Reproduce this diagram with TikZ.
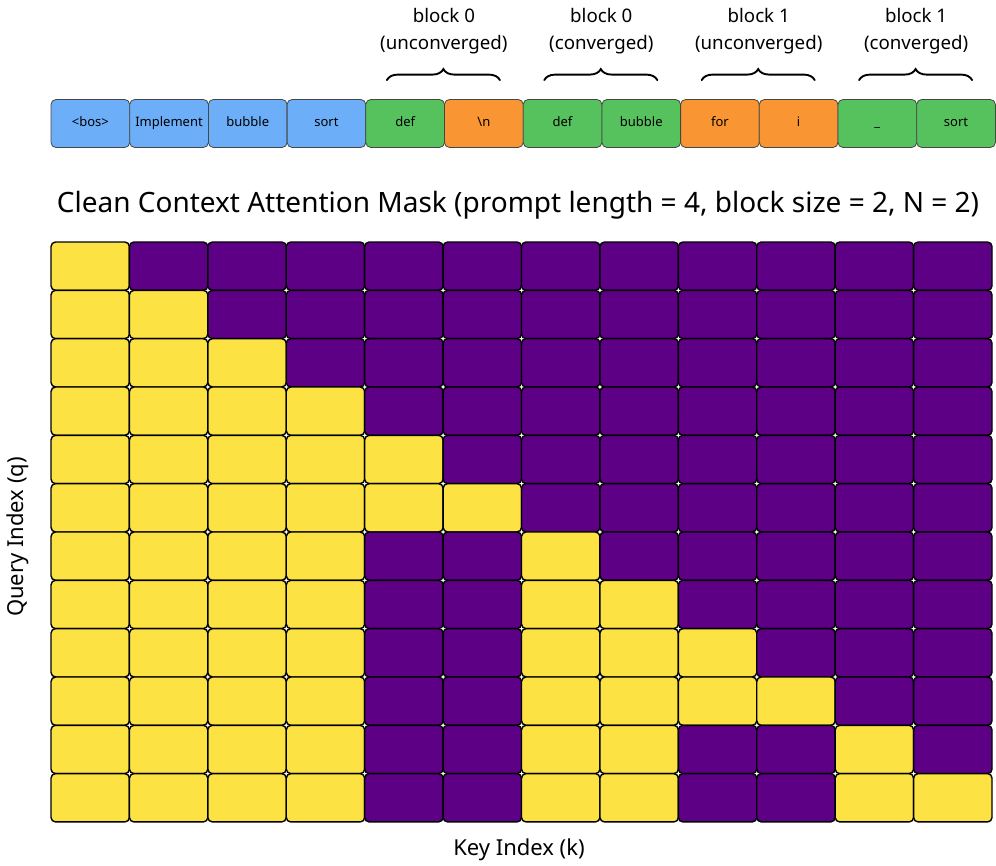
\documentclass[tikz,border=0pt]{standalone}
\usepackage{fontspec}
\setmainfont{Noto Sans}
\usetikzlibrary{decorations.pathreplacing,calc}
\definecolor{maskY}{RGB}{253,226,68}
\definecolor{maskP}{RGB}{93,0,133}
\definecolor{tokB}{RGB}{108,175,248}
\definecolor{tokG}{RGB}{86,194,94}
\definecolor{tokO}{RGB}{249,149,50}
\definecolor{tokEdge}{RGB}{70,70,70}
\tikzset{
  cell/.style={draw=black, line width=1.4pt, rounded corners=4.5pt, minimum width=78.4pt, minimum height=48.3pt, inner sep=0pt, outer sep=0pt},
  tok/.style={draw=tokEdge, line width=0.8pt, rounded corners=5pt, minimum width=78.7pt, minimum height=48pt, inner sep=0pt, text height=9.5pt, text depth=2.5pt, font=\fontsize{13}{15}\selectfont},
  blocklabel/.style={align=center, font=\fontsize{18.7}{27}\selectfont},
  bracestyle/.style={decorate, decoration={brace, amplitude=11pt}, line width=1.9pt, line cap=round},
  axislabel/.style={font=\fontsize{22}{26}\selectfont},
}
\begin{document}
\begin{tikzpicture}[x=1pt,y=-1pt]
\useasboundingbox (0,0) rectangle (996,866);
% tokens
\foreach \i/\t/\c in {0/{<bos>}/tokB,1/Implement/tokB,2/bubble/tokB,3/sort/tokB,4/def/tokG,5/{\textbackslash n}/tokO,6/def/tokG,7/bubble/tokG,8/for/tokO,9/i/tokO,10/\textunderscore/tokG,11/sort/tokG}{
  \node[tok, fill=\c] (t\i) at ({51+78.7*(\i+0.5)},123.5) {\t};
}
% braces and block labels
\foreach \a/\b/\n/\l in {4/5/0/unconverged,6/7/0/converged,8/9/1/unconverged,10/11/1/converged}{
  \coordinate (bl\a) at ($(t\a.north east)+(-58,-19)$);
  \coordinate (br\a) at ($(t\a.north east)+(55,-19)$);
  \draw[bracestyle] (bl\a) -- (br\a);
  \node[blocklabel] (lab\a) at ($(t\a.north east)+(-1,-67.5)$) {block \n\\(\l)};
}
% title
\node[font=\fontsize{28}{32}\selectfont] (title) at (518,205) {Clean Context Attention Mask (prompt length = 4, block size = 2, N = 2)};
% mask
\foreach \r in {0,...,11}{
  \foreach \k in {0,...,11}{
    \pgfmathtruncatemacro{\gq}{floor((\r-4)/2)}
    \pgfmathtruncatemacro{\gk}{floor((\k-4)/2)}
    \pgfmathtruncatemacro{\on}{((\k<=\r) && ((\k<4) || (\gk==\gq) || ((\gk==1) && (\gq>1)))) ? 1 : 0}
    \ifnum\on=1 \def\cc{maskY}\else\def\cc{maskP}\fi
    \node[cell, fill=\cc] (c-\r-\k) at ({51+78.42*(\k+0.5)},{242+48.33*(\r+0.5)}) {};
  }
}
\node[axislabel] (xlab) at (519,850) {Key Index (k)};
\node[axislabel, rotate=90] (ylab) at (18,537) {Query Index (q)};
\end{tikzpicture}
\end{document}
